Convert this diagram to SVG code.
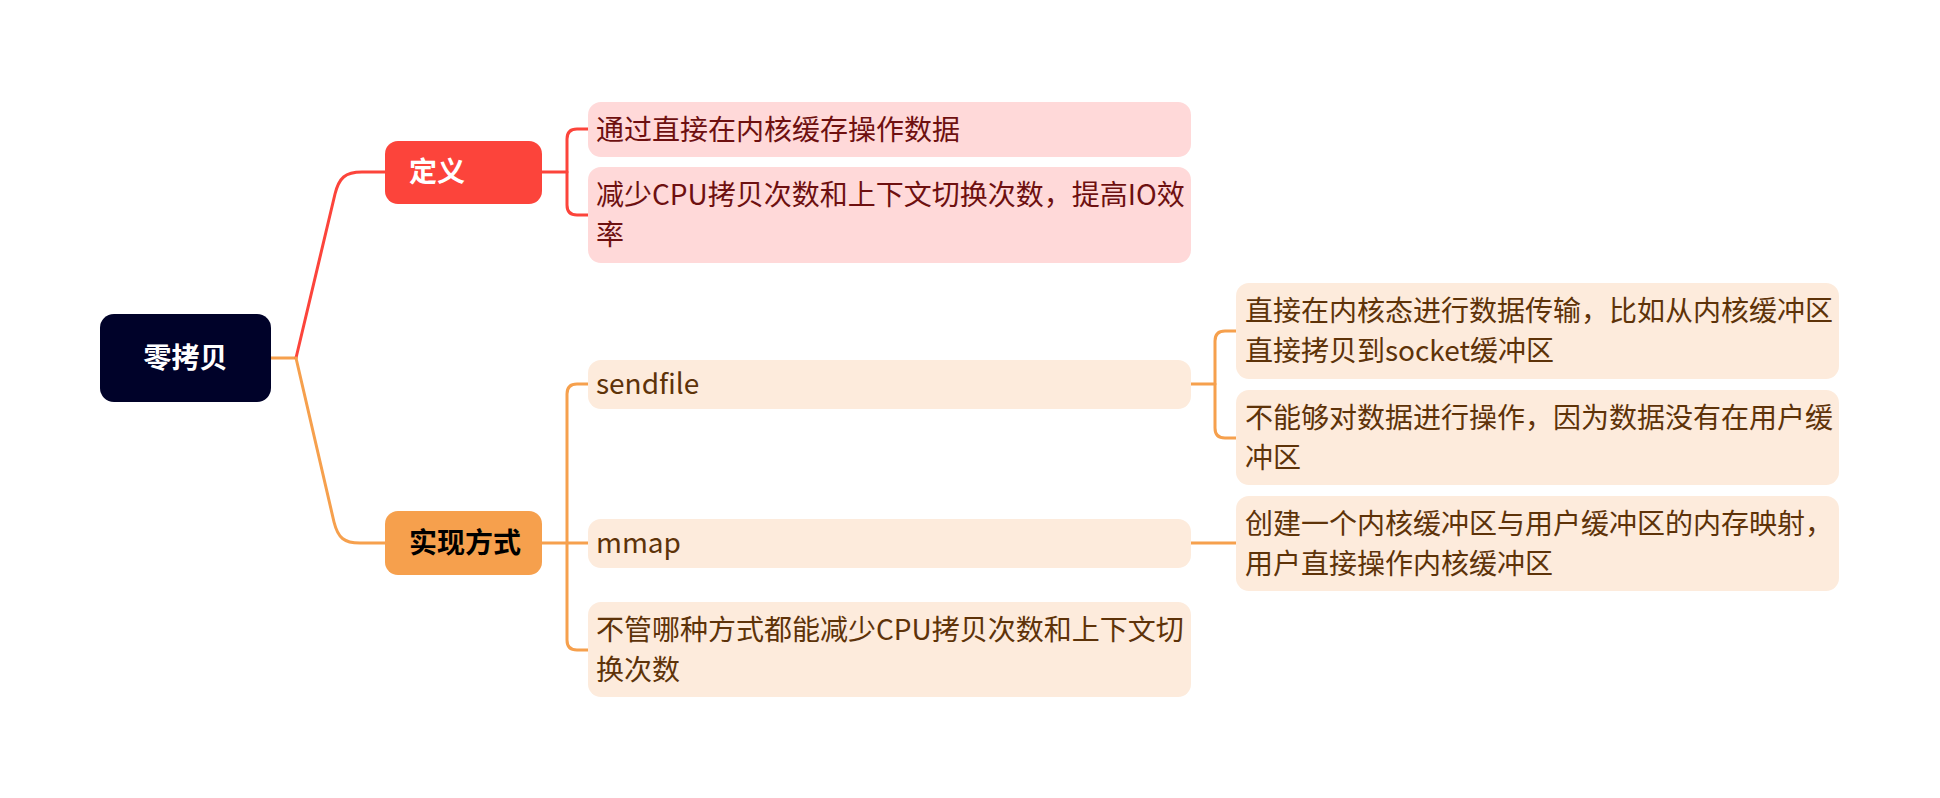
<svg xmlns="http://www.w3.org/2000/svg" width="1940" height="798" viewBox="0 0 1940 798">
<style>
text{font-family:"Noto Sans CJK SC","Noto Sans",sans-serif;font-size:28px}
.bold{font-weight:bold}
.white{fill:#ffffff}
.dark{fill:#000000}
.pinkT{fill:#6E1010}
.peachT{fill:#5E3309}
.pink{fill:#FFD9D9}
.peach{fill:#FDEBDC}
.red{stroke:#FC443B}
.org{stroke:#F6A04D}
#connectors path{fill:none;stroke-width:3;stroke-linecap:round;stroke-linejoin:round}
</style>
<rect width="1940" height="798" fill="#ffffff"/>
<g id="connectors">
<path class="org" d="M271 358 L296 358"/>
<path class="red" d="M296 358 L335 194 C339 178 345 172 362 172 L385 172"/>
<path class="org" d="M296 358 L334 522 C338 538 344 543 360 543 L385 543"/>
<path class="red" d="M542 172 L567 172"/>
<path class="red" d="M588 129 L577 129 Q567 129 567 139 L567 205 Q567 215 577 215 L588 215"/>
<path class="org" d="M542 543 L588 543"/>
<path class="org" d="M588 384 L577 384 Q567 384 567 394 L567 640 Q567 650 577 650 L588 650"/>
<path class="org" d="M1191 384 L1215 384"/>
<path class="org" d="M1236 331 L1225 331 Q1215 331 1215 341 L1215 428 Q1215 438 1225 438 L1236 438"/>
<path class="org" d="M1191 543 L1236 543"/>
</g>
<g id="root">
<rect x="100" y="314" width="171" height="88" rx="14" fill="#000229"/>
<text x="185.5" y="368" text-anchor="middle" class="bold white">零拷贝</text>
</g>
<g id="n-def">
<rect x="385" y="141" width="157" height="63" rx="13" fill="#FC443B"/>
<text x="409" y="182" class="bold white">定义</text>
</g>
<g id="n-impl">
<rect x="385" y="511" width="157" height="64" rx="13" fill="#F6A04D"/>
<text x="409" y="553" class="bold dark">实现方式</text>
</g>
<g id="n-def-1">
<rect x="588" y="102" width="603" height="55" rx="13" class="pink"/>
<text x="596" y="140" class="pinkT">通过直接在内核缓存操作数据</text>
</g>
<g id="n-def-2">
<rect x="588" y="167" width="603" height="96" rx="13" class="pink"/>
<text x="596" y="205" class="pinkT">减少CPU拷贝次数和上下文切换次数，提高IO效</text>
<text x="596" y="245" class="pinkT">率</text>
</g>
<g id="n-sendfile">
<rect x="588" y="360" width="603" height="49" rx="13" class="peach"/>
<text x="596" y="394" class="peachT">sendfile</text>
</g>
<g id="n-mmap">
<rect x="588" y="519" width="603" height="49" rx="13" class="peach"/>
<text x="596" y="553" class="peachT">mmap</text>
</g>
<g id="n-common">
<rect x="588" y="602" width="603" height="95" rx="13" class="peach"/>
<text x="596" y="640" class="peachT">不管哪种方式都能减少CPU拷贝次数和上下文切</text>
<text x="596" y="680" class="peachT">换次数</text>
</g>
<g id="n-sendfile-1">
<rect x="1236" y="283" width="603" height="96" rx="13" class="peach"/>
<text x="1245" y="321" class="peachT">直接在内核态进行数据传输，比如从内核缓冲区</text>
<text x="1245" y="361" class="peachT">直接拷贝到socket缓冲区</text>
</g>
<g id="n-sendfile-2">
<rect x="1236" y="390" width="603" height="95" rx="13" class="peach"/>
<text x="1245" y="428" class="peachT">不能够对数据进行操作，因为数据没有在用户缓</text>
<text x="1245" y="468" class="peachT">冲区</text>
</g>
<g id="n-mmap-1">
<rect x="1236" y="496" width="603" height="95" rx="13" class="peach"/>
<text x="1245" y="534" class="peachT">创建一个内核缓冲区与用户缓冲区的内存映射，</text>
<text x="1245" y="574" class="peachT">用户直接操作内核缓冲区</text>
</g>
</svg>
